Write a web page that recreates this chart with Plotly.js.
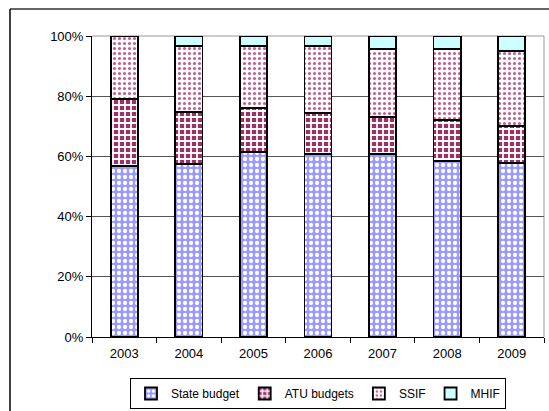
<!DOCTYPE html>
<html>
<head>
<meta charset="utf-8">
<script src="https://cdn.plot.ly/plotly-3.0.1.min.js"></script>
<style>html,body{margin:0;padding:0;background:#fff;}#chart{width:549px;height:411px;}</style>
</head>
<body>
<div id="chart"></div>
<script>
var years = ['2003','2004','2005','2006','2007','2008','2009'];
var stateBudget = [56.8, 57.5, 61.5, 60.8, 60.8, 58.5, 57.8];
var atuBudgets  = [22.2, 17.3, 14.5, 13.6, 12.2, 13.5, 12.2];
var ssif        = [21.0, 21.8, 20.6, 22.2, 22.7, 23.7, 25.0];
var mhif        = [0.0, 3.4, 3.4, 3.4, 4.3, 4.3, 5.0];
var seriesNames = ['State budget', 'ATU budgets', 'SSIF', 'MHIF'];

var lineStyle = {color: '#000000', width: 1.8};
var traces = [
  {name: seriesNames[0], y: stateBudget,
   marker: {color: '#9999ff', line: lineStyle,
            pattern: {shape: '.', fgcolor: '#ffffff', bgcolor: '#9999ff', size: 6, solidity: 0.4, fillmode: 'replace'}}},
  {name: seriesNames[1], y: atuBudgets,
   marker: {color: '#993366', line: lineStyle,
            pattern: {shape: '+', fgcolor: '#ffffff', bgcolor: '#993366', size: 6, solidity: 0.5, fillmode: 'replace'}}},
  {name: seriesNames[2], y: ssif,
   marker: {color: '#ffffff', line: lineStyle,
            pattern: {shape: '.', fgcolor: '#c06090', bgcolor: '#ffffff', size: 5, solidity: 0.3, fillmode: 'replace'}}},
  {name: seriesNames[3], y: mhif,
   marker: {color: '#ccffff', line: lineStyle}}
].map(function(t){ t.type = 'bar'; t.x = years; t.hoverinfo = 'none'; return t; });

var L = 92, R = 5, T = 36, B = 74, W = 549, H = 411;
var pw = W - L - R, ph = H - T - B;
function px(x){ return (x - L) / pw; }
function py(y){ return (H - B - y) / ph; }

var layout = {
  width: W, height: H,
  margin: {l: L, r: R, t: T, b: B, pad: 0, autoexpand: false},
  paper_bgcolor: '#ffffff', plot_bgcolor: '#ffffff',
  barmode: 'stack', bargap: 0.58,
  font: {family: 'Liberation Sans, Arial, sans-serif', size: 13, color: '#000000'},
  showlegend: true,
  legend: {orientation: 'h', x: 0.5, xanchor: 'center', y: py(409), yanchor: 'bottom',
           bordercolor: '#000000', borderwidth: 1, font: {size: 12},
           traceorder: 'normal', itemwidth: 30, tracegroupgap: 0},
  xaxis: {type: 'category', tickson: 'boundaries', ticks: 'outside', ticklen: 5,
          ticklabelstandoff: 4,
          tickcolor: '#000000', showline: true, linecolor: '#000000', linewidth: 1,
          showgrid: false, zeroline: false, tickfont: {size: 13}},
  yaxis: {range: [0, 100], dtick: 20, ticksuffix: '%', ticks: 'outside', ticklen: 5,
          tickcolor: '#000000', showline: true, linecolor: '#000000', linewidth: 1,
          showgrid: true, gridcolor: '#555555', gridwidth: 1, zeroline: false,
          tickfont: {size: 13}},
  shapes: [
    {type: 'line', xref: 'paper', yref: 'paper', x0: 1, x1: 1, y0: 0, y1: 1,
     line: {color: '#999999', width: 1}, layer: 'below'},
    {type: 'line', xref: 'paper', yref: 'paper', x0: 0, x1: 1, y0: 1, y1: 1,
     line: {color: '#999999', width: 1}, layer: 'below'},
    {type: 'line', xref: 'paper', yref: 'paper', x0: px(10), x1: px(560), y0: py(9), y1: py(9),
     line: {color: '#333333', width: 1.5}},
    {type: 'line', xref: 'paper', yref: 'paper', x0: px(10), x1: px(10), y0: py(9), y1: py(420),
     line: {color: '#000000', width: 1.5}}
  ]
};

Plotly.newPlot('chart', traces, layout, {staticPlot: true, displayModeBar: false});
</script>
</body>
</html>
